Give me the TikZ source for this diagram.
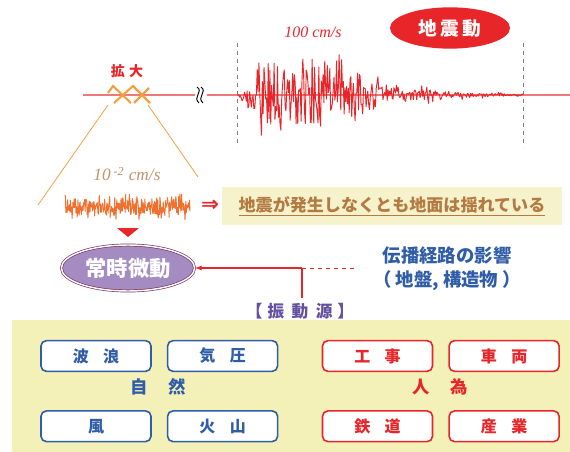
\documentclass[tikz,border=0pt]{standalone}
\usepackage{fontspec}
\newfontfamily\jp{Noto Sans CJK JP}
\newfontfamily\tms{Liberation Serif}
\newfontfamily\symb{DejaVu Sans}
\usetikzlibrary{shapes.geometric,positioning,arrows.meta}

\definecolor{quake}{HTML}{E8262A}
\definecolor{axisred}{HTML}{F07878}
\definecolor{noise}{HTML}{F07030}
\definecolor{zoomorange}{HTML}{F5A040}
\definecolor{brown}{HTML}{B47A42}
\definecolor{unitbrown}{HTML}{C29466}
\definecolor{paleyellow}{HTML}{F6F3CC}
\definecolor{bgyellow}{HTML}{F3F0B8}
\definecolor{micro}{HTML}{A48CC2}
\definecolor{microedge}{HTML}{7A2E62}
\definecolor{natblue}{HTML}{2F5DA8}
\definecolor{srcpurple}{HTML}{6450A0}

\begin{document}
\begin{tikzpicture}[x=0.75pt,y=-0.75pt,
  declare function={spk(\r)=\r*abs(\r);},
  wave/.style={line width=0.7pt, line join=round},
  jpb/.style={font=\jp\bfseries\fontsize{#1}{#1}\selectfont},
  srcbox/.style={draw, rounded corners=4pt, line width=1.2pt, fill=white,
    minimum width=82.5pt, minimum height=23pt, inner sep=0pt, jpb=12},
  natbox/.style={srcbox, draw=natblue, text=natblue},
  humbox/.style={srcbox, draw=quake, text=quake},
]
\useasboundingbox (0,0) rectangle (570,452);

% ground motion record
\draw[axisred, line width=0.8pt] (83,95) -- (570,95);
\draw[gray, dashed, line width=0.6pt] (237,43) -- (237,147);
\draw[gray, dashed, line width=0.6pt] (523,43) -- (523,147);
\pgfmathsetseed{11}
\draw[quake, wave] plot[domain=237:523, samples=340]
  (\x, {95 + 58*(0.5*rand + 0.5*spk(rand))*min(1,(\x-237)/28)*exp(-max(0,\x-330)/55)});
\node[text=quake, font=\tms\itshape\fontsize{12}{12}\selectfont] (peak) at (313,32) {100 cm/s};
\node[ellipse, fill=quake, text=white, minimum width=90pt, minimum height=31pt, jpb=14] (eq) at (450,28) {地\,震\,動};

% break mark
\fill[white] (195,88) rectangle (207,102);
\draw[line width=0.7pt] (197,87) .. controls (204,92) and (192,97) .. (199,103);
\draw[line width=0.7pt] (201,87) .. controls (208,92) and (196,97) .. (203,103);

% magnifier
\node[text=quake, jpb=10.5] (mag) at (127,71) {拡\hspace{0.3em}大};
\draw[zoomorange, line width=1.6pt] (108,93) -- (113,86) -- (131,103);
\draw[zoomorange, line width=1.6pt] (114,103) -- (133,86) -- (150,103);
\draw[zoomorange, line width=1.6pt] (134,103) -- (149,88);
\coordinate (zl) at (108,105);
\coordinate (zr) at (148,105);
\coordinate (nl) at (38,205);
\coordinate (nr) at (198,177);
\draw[zoomorange, line width=0.6pt] (zl) -- (nl);
\draw[zoomorange, line width=0.6pt] (zr) -- (nr);

% microtremor record
\pgfmathsetseed{5}
\draw[noise, wave] plot[domain=65:190, samples=300]
  (\x, {207 + 14*(0.6*rand + 0.4*spk(rand))});
\node[text=unitbrown, font=\tms\itshape\fontsize{13}{13}\selectfont] (unit) at (127,174) {10\,\textsuperscript{-2} cm/s};
\node[text=quake, font=\symb\bfseries\fontsize{16}{16}\selectfont] (imp) at (210,206) {⇒};
\node[fill=paleyellow, minimum width=255pt, minimum height=28.5pt, text=brown, jpb=12.8] (msg) at (392,206)
  {\underline{地震が発生しなくとも地面は揺れている}};

% microtremor
\fill[quake] (117,228) -- (139,228) -- (128,237) -- cycle;
\node[ellipse, fill=micro, draw=microedge, double=white, double distance=1.1pt, line width=0.5pt,
  minimum width=90pt, minimum height=34.5pt, text=white, jpb=16] (mic) at (128,268) {常時微動};
\node[text=natblue, align=center, jpb=13.8] (path) at (447,269) {伝播経路の影響\\[4pt]（ 地盤, 構造物 ）};
\node[text=srcpurple, jpb=12.5] (src) at (300,311) {【\hspace{0.3em}振\hspace{0.45em}動\hspace{0.45em}源\hspace{0.3em}】};
\coordinate (jn) at (302,268);
\draw[quake, line width=0.8pt, -{Latex[length=5pt]}] (jn) -- (mic.east);
\draw[quake, line width=0.8pt] (jn) -- (jn |- src.north);
\draw[quake, line width=0.6pt, dashed] (jn) -- (355,268);

% vibration sources
\fill[bgyellow] (12,320) rectangle (570,452);
\node[natbox] (wave) at (96,356) {波\hspace{0.9em}浪};
\node[natbox, right=11.25pt of wave] (press) {気\hspace{0.9em}圧};
\node[natbox, below=28.5pt of wave] (wind) {風};
\node[natbox, right=11.25pt of wind] (volc) {火\hspace{0.9em}山};
\node[text=natblue, jpb=13] (nat) at (158,387) {自\hspace{1.2em}然};
\node[humbox] (work) at (377.5,356) {工\hspace{0.9em}事};
\node[humbox, right=11.25pt of work] (car) {車\hspace{0.9em}両};
\node[humbox, below=28.5pt of work] (rail) {鉄\hspace{0.9em}道};
\node[humbox, right=11.25pt of rail] (ind) {産\hspace{0.9em}業};
\node[text=quake, jpb=13] (hum) at (440,387) {人\hspace{1.2em}為};
\end{tikzpicture}
\end{document}
